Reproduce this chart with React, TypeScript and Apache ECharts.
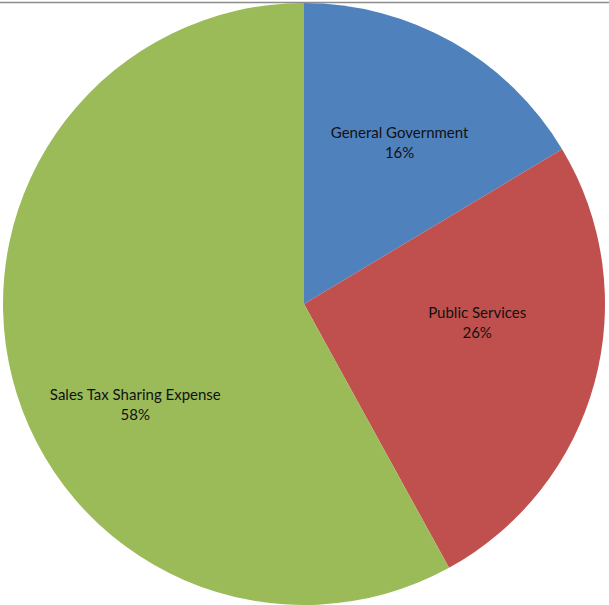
import React, { useEffect, useRef } from "react";
import * as echarts from "echarts";

const categories = ["General Government", "Public Services", "Sales Tax Sharing Expense"];
const values = [16.4, 25.6, 58.0];
const colors = ["#4F81BD", "#C0504D", "#9BBB59"];
const labelOffsets: [number, number][] = [
  [20, -28],
  [25, -22],
  [-20, 62],
];

export default function App() {
  const ref = useRef<HTMLDivElement>(null);
  useEffect(() => {
    if (!ref.current) return;
    const chart = echarts.init(ref.current, undefined, { renderer: "svg" });
    chart.setOption({
      animation: false,
      backgroundColor: "#ffffff",
      graphic: [
        {
          type: "line",
          shape: { x1: 0, y1: 2.5, x2: 609, y2: 2.5 },
          style: { stroke: "#8c8c8c", lineWidth: 1.5 },
          z: 10,
        },
      ],
      series: [
        {
          type: "pie",
          center: [304, 304],
          radius: 301,
          startAngle: 90,
          clockwise: true,
          percentPrecision: 0,
          avoidLabelOverlap: false,
          itemStyle: { borderWidth: 0 },
          emphasis: { disabled: true },
          label: {
            show: true,
            position: "inside",
            formatter: "{b}\n{d}%",
            color: "#111111",
            fontFamily: "Lato",
            fontSize: 15,
            lineHeight: 20,
            align: "center",
          },
          labelLine: { show: false },
          labelLayout: (params: any) => ({
            dx: labelOffsets[params.dataIndex][0],
            dy: labelOffsets[params.dataIndex][1],
          }),
          data: categories.map((name, i) => ({
            name,
            value: values[i],
            itemStyle: { color: colors[i] },
          })),
        },
      ],
    });
    return () => chart.dispose();
  }, []);
  return (
    <div
      ref={ref}
      style={{ position: "fixed", left: 0, top: 0, width: 609, height: 605 }}
    />
  );
}
